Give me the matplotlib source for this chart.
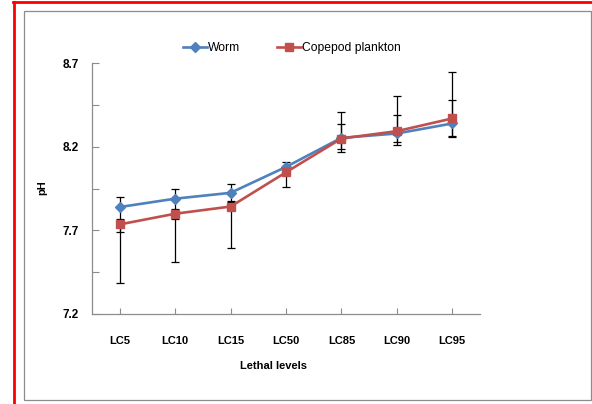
import matplotlib
matplotlib.use("Agg")
import matplotlib.pyplot as plt
from matplotlib.lines import Line2D
from matplotlib.patches import Rectangle
import numpy as np

categories = ["LC5", "LC10", "LC15", "LC50", "LC85", "LC90", "LC95"]
worm = [7.84, 7.89, 7.925, 8.08, 8.254, 8.28, 8.34]
worm_lo = [0.15, 0.12, 0.05, 0.03, 0.064, 0.05, 0.075]
worm_hi = [0.06, 0.06, 0.05, 0.03, 0.08, 0.11, 0.14]
cope = [7.736, 7.80, 7.843, 8.048, 8.25, 8.294, 8.37]
cope_lo = [0.35, 0.29, 0.25, 0.09, 0.08, 0.084, 0.11]
cope_hi = [0.03, 0.03, 0.03, 0.03, 0.16, 0.21, 0.28]

plt.rcParams['font.family'] = ['Liberation Sans', 'DejaVu Sans']

W, H = 592, 404
fig = plt.figure(figsize=(W/100, H/100), dpi=100)
fig.patch.set_facecolor('white')

# outer frames
fig.add_artist(Rectangle((24/W, 1-400/H), (591-24)/W, (400-10.7)/H, transform=fig.transFigure,
                         fill=False, edgecolor='#8c8c8c', linewidth=0.9))
fig.add_artist(Line2D([14/W, 14/W], [0, 1-2/H], transform=fig.transFigure, color='#ff0000', linewidth=2))
fig.add_artist(Line2D([13/W, 1], [1-2.2/H, 1-2.2/H], transform=fig.transFigure, color='#ff0000', linewidth=2))

ax = fig.add_axes([92/W, 1-314/H, (480-92)/W, (314-63.3)/H])
x = np.arange(len(categories))

ax.errorbar(x, worm, yerr=[worm_lo, worm_hi], fmt='none', ecolor='black', elinewidth=0.9,
            capsize=2.9, capthick=0.9, zorder=2)
ax.errorbar(x, cope, yerr=[cope_lo, cope_hi], fmt='none', ecolor='black', elinewidth=0.9,
            capsize=2.9, capthick=0.9, zorder=2)
lw, = ax.plot(x, worm, color='#4F81BD', linewidth=1.9, marker='D', markersize=4.6,
              markerfacecolor='#4F81BD', markeredgecolor='#4F81BD', label='Worm', zorder=3)
lc, = ax.plot(x, cope, color='#C0504D', linewidth=1.9, marker='s', markersize=6.3,
              markerfacecolor='#C0504D', markeredgecolor='#C0504D', label='Copepod plankton', zorder=4)

ax.set_xlim(-0.5, 6.5)
ax.set_ylim(7.2, 8.7)
ax.set_yticks([7.2, 7.7, 8.2, 8.7])
ax.set_yticks([7.45, 7.95, 8.45], minor=True)
ax.set_yticklabels(['7.2', '7.7', '8.2', '8.7'], fontsize=8.5, fontweight='bold')
ax.set_xticks(x)
ax.set_xticklabels(categories, fontsize=8, fontweight='bold')

for s in ['top', 'right']:
    ax.spines[s].set_visible(False)
for s in ['left', 'bottom']:
    ax.spines[s].set_color('#8c8c8c')
    ax.spines[s].set_linewidth(0.9)

ax.tick_params(axis='y', which='both', direction='in', length=5, width=0.8, color='#8c8c8c', pad=9.4)
ax.tick_params(axis='x', which='both', direction='in', length=4, width=0.8, color='#8c8c8c', pad=16)

ax.set_xlabel('Lethal levels', fontsize=8, fontweight='bold', va='center')
ax.xaxis.set_label_coords(0.4665, -0.2074)
ax.set_ylabel('pH', fontsize=8, fontweight='bold', va='center')
ax.yaxis.set_label_coords(-0.129, 0.503)

fig.legend(handles=[lw, lc], loc='center', bbox_to_anchor=(292/W, 1-48/H), ncol=2, frameon=False,
           fontsize=8.7, handlelength=2.0, handletextpad=0.1, columnspacing=3.0)

fig.savefig('out.png', dpi=100, facecolor='white')
